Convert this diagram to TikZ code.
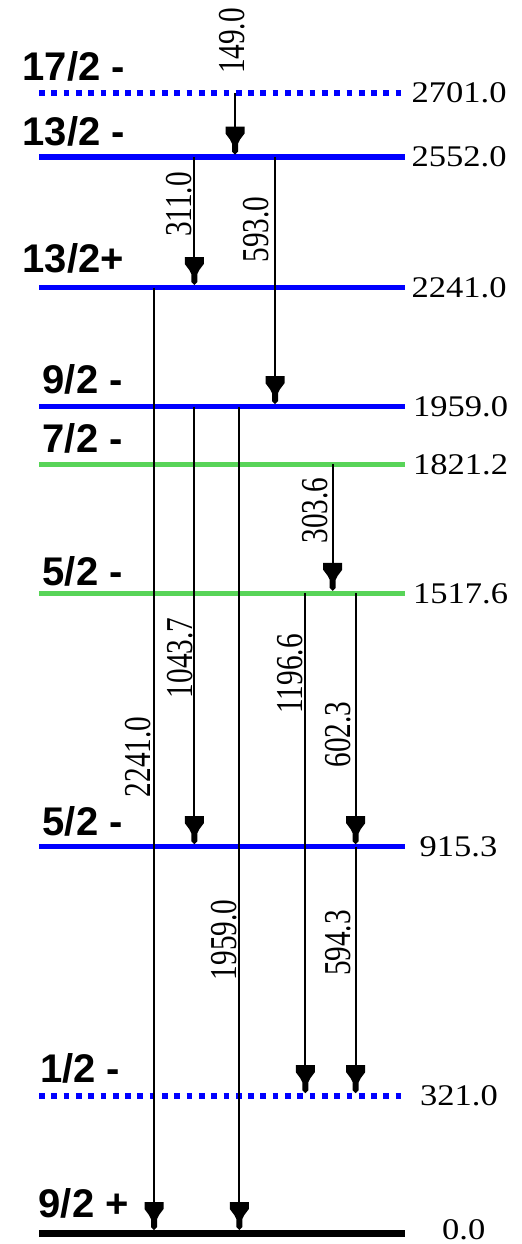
\documentclass[tikz,border=0pt]{standalone}
\usepackage{fontspec}
\setmainfont{Liberation Serif}
\newfontfamily\spinfont{Liberation Sans}
\usetikzlibrary{arrows.meta}
\definecolor{lvlblue}{RGB}{0,0,255}
\definecolor{lvlgreen}{RGB}{88,212,88}
\newcommand\enlab[1]{\scalebox{1.15}[1]{#1}}
\newcommand\gamlab[1]{\scalebox{0.77}[1]{#1}}
\pgfdeclarearrow{
  name = Pen,
  setup code = {
    \pgfarrowssettipend{0pt}
    \pgfarrowssetlineend{-12bp}
    \pgfarrowsupperhullpoint{-28bp}{9.5bp}
    \pgfarrowsupperhullpoint{0pt}{0pt}
  },
  drawing code = {
    \pgfpathmoveto{\pgfpoint{0bp}{0bp}}
    \pgfpathlineto{\pgfpoint{-3bp}{3bp}}
    \pgfpathlineto{\pgfpoint{-11bp}{3bp}}
    \pgfpathlineto{\pgfpoint{-15bp}{5bp}}
    \pgfpathlineto{\pgfpoint{-21bp}{9.5bp}}
    \pgfpathlineto{\pgfpoint{-28bp}{9.5bp}}
    \pgfpathlineto{\pgfpoint{-28bp}{-9.5bp}}
    \pgfpathlineto{\pgfpoint{-21bp}{-9.5bp}}
    \pgfpathlineto{\pgfpoint{-15bp}{-5bp}}
    \pgfpathlineto{\pgfpoint{-11bp}{-3bp}}
    \pgfpathlineto{\pgfpoint{-3bp}{-3bp}}
    \pgfpathclose
    \pgfusepathqfill
  }
}
\begin{document}
\begin{tikzpicture}[x=1bp,y=-1bp,
  level/.style={line width=5.5bp},
  dotlevel/.style={line width=5.7bp, dash pattern=on 5.7bp off 6.6bp},
  groundlevel/.style={line width=6.5bp, black},
  trans/.style={line width=1.8bp, black, -{Pen}},
  spin/.style={anchor=base west, inner sep=0pt, font=\spinfont\bfseries\fontsize{40bp}{40bp}\selectfont},
  energy/.style={anchor=west, inner sep=0pt, font=\fontsize{30bp}{30bp}\selectfont},
  glab/.style={rotate=90, inner sep=0pt, font=\fontsize{38bp}{38bp}\selectfont}]
\useasboundingbox (0,0) rectangle (522,1244);
\fill[white] (0,0) rectangle (522,1244);

% levels
\draw[dotlevel, lvlblue] (39,93) -- (405,93);
\draw[level, lvlblue] (39,157) -- (405,157);
\draw[level, lvlblue] (39,287.5) -- (405,287.5);
\draw[level, lvlblue] (39,406.7) -- (405,406.7);
\draw[level, lvlgreen] (39,464.3) -- (405,464.3);
\draw[level, lvlgreen] (39,593.3) -- (405,593.3);
\draw[level, lvlblue] (39,846.7) -- (405,846.7);
\draw[dotlevel, lvlblue] (39,1095.7) -- (405,1095.7);
\draw[groundlevel] (39,1233.3) -- (405,1233.3);

% spin labels
\node[spin] (s2701) at (22.5,80) {17/2 -};
\node[spin] (s2552) at (22.5,145) {13/2 -};
\node[spin] (s2241) at (22.5,272.5) {13/2+};
\node[spin] (s1959) at (42.5,393) {9/2 -};
\node[spin] (s1821) at (42.5,452.5) {7/2 -};
\node[spin] (s1517) at (42.5,585) {5/2 -};
\node[spin] (s915) at (42.5,835) {5/2 -};
\node[spin] (s321) at (40,1082) {1/2 -};
\node[spin] (s0) at (38.5,1217) {9/2 +};

% energy labels
\node[energy] (e2701) at (411.5,93) {\enlab{2701.0}};
\node[energy] (e2552) at (411.5,157) {\enlab{2552.0}};
\node[energy] (e2241) at (411.5,287.5) {\enlab{2241.0}};
\node[energy] (e1959) at (413,406.7) {\enlab{1959.0}};
\node[energy] (e1821) at (413,464.3) {\enlab{1821.2}};
\node[energy] (e1517) at (413,593.3) {\enlab{1517.6}};
\node[energy] (e915) at (419.5,846.7) {\enlab{915.3}};
\node[energy] (e321) at (420,1095.7) {\enlab{321.0}};
\node[energy] (e0) at (442,1229.5) {\enlab{0.0}};

% transition end points
\coordinate (a149s) at (235,93);     \coordinate (a149e) at (235,154.5);
\coordinate (a311s) at (194.3,157);  \coordinate (a311e) at (194.3,285);
\coordinate (a593s) at (275,157);    \coordinate (a593e) at (275,404.2);
\coordinate (a2241s) at (154,287.5); \coordinate (a2241e) at (154,1230);
\coordinate (a1043s) at (194.3,406.7); \coordinate (a1043e) at (194.3,844.2);
\coordinate (a1959s) at (239.3,406.7); \coordinate (a1959e) at (239.3,1230);
\coordinate (a303s) at (332.7,464.3); \coordinate (a303e) at (332.7,590.8);
\coordinate (a1196s) at (305.3,593.3); \coordinate (a1196e) at (305.3,1093.2);
\coordinate (a602s) at (355.7,593.3); \coordinate (a602e) at (355.7,844.2);
\coordinate (a594s) at (355.7,846.7); \coordinate (a594e) at (355.7,1093.2);

\draw[trans] (a149s) -- (a149e);
\draw[trans] (a311s) -- (a311e);
\draw[trans] (a593s) -- (a593e);
\draw[trans] (a2241s) -- (a2241e);
\draw[trans] (a1043s) -- (a1043e);
\draw[trans] (a1959s) -- (a1959e);
\draw[trans] (a303s) -- (a303e);
\draw[trans] (a1196s) -- (a1196e);
\draw[trans] (a602s) -- (a602e);
\draw[trans] (a594s) -- (a594e);

% transition labels
\node[glab] (g149) at (232.5,41) {\gamlab{149.0}};
\node[glab] (g311) at (179.5,204.5) {\gamlab{311.0}};
\node[glab] (g593) at (256,229.5) {\gamlab{593.0}};
\node[glab] (g303) at (315,510.5) {\gamlab{303.6}};
\node[glab] (g2241) at (138.5,757) {\gamlab{2241.0}};
\node[glab] (g1043) at (180,658) {\gamlab{1043.7}};
\node[glab] (g1196) at (290.5,674) {\gamlab{1196.6}};
\node[glab] (g602) at (338,734.5) {\gamlab{602.3}};
\node[glab] (g1959) at (224.5,940) {\gamlab{1959.0}};
\node[glab] (g594) at (338,943) {\gamlab{594.3}};
\end{tikzpicture}
\end{document}
